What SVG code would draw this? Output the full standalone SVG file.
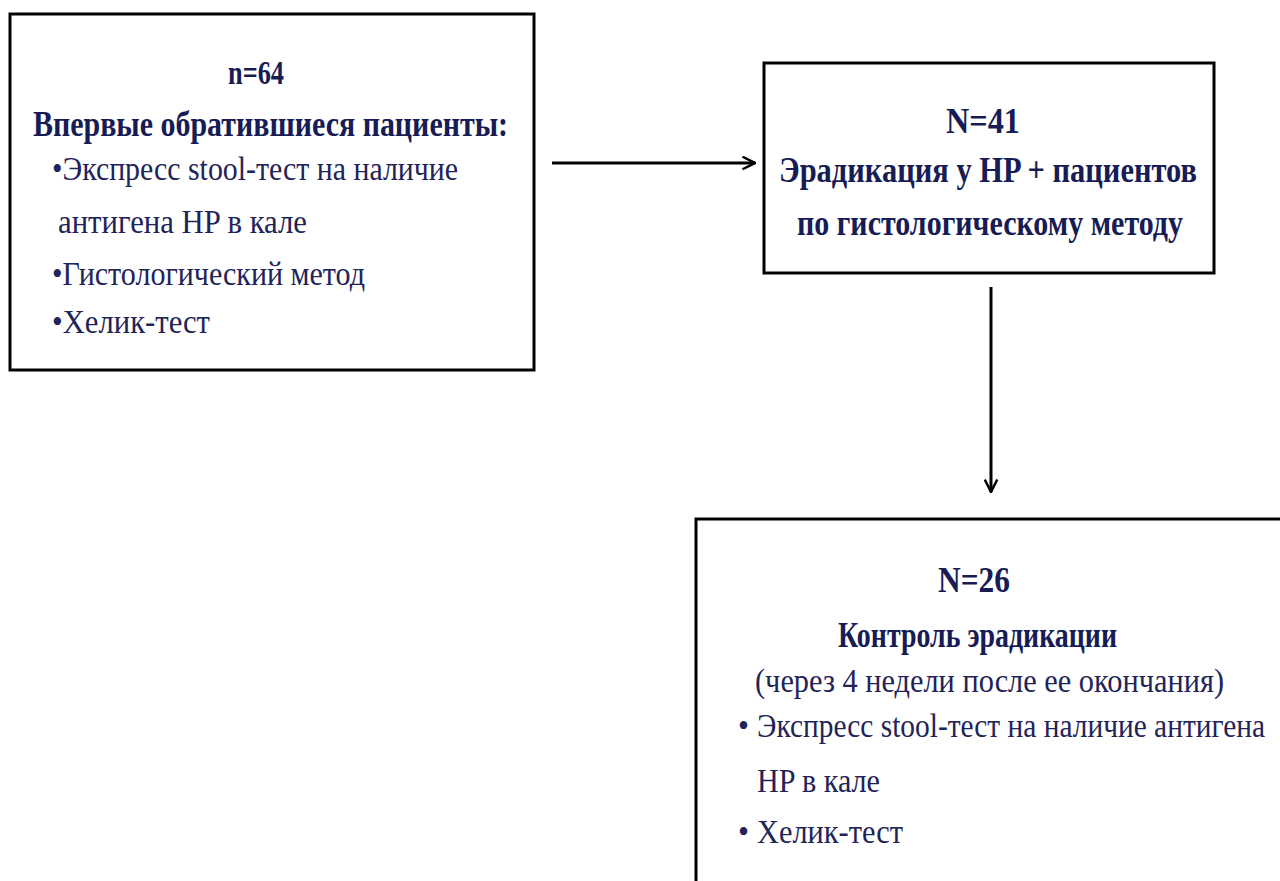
<svg xmlns="http://www.w3.org/2000/svg" width="1280" height="881" viewBox="0 0 1280 881">
<defs>
<style>
.box{fill:#fff;stroke:#000;stroke-width:3}
.t{font-family:"Liberation Serif",serif;font-size:34px;fill:#1f2459}
.b{font-weight:bold;font-size:36px;fill:#171c55}
.conn{stroke:#000;stroke-width:3;fill:none}
</style>
<marker id="ah" viewBox="0 0 12 12" refX="11" refY="6" markerWidth="5" markerHeight="5" markerUnits="strokeWidth" orient="auto">
<path d="M1,1 L11,6 L1,11" fill="none" stroke="#000" stroke-width="2"/>
</marker>
</defs>
<rect width="1280" height="881" fill="#fff"/>
<g id="node1">
<rect class="box" x="10" y="14" width="524" height="356"/>
<text class="t b" x="228" y="84" textLength="56" lengthAdjust="spacingAndGlyphs" style="font-size:33px">n=64</text>
<text class="t b" x="33" y="136" textLength="475" lengthAdjust="spacingAndGlyphs">Впервые обратившиеся пациенты:</text>
<text class="t" x="52" y="180" textLength="406" lengthAdjust="spacingAndGlyphs">•Экспресс stool-тест на наличие</text>
<text class="t" x="58" y="233" textLength="249" lengthAdjust="spacingAndGlyphs">антигена HP в кале</text>
<text class="t" x="52" y="285" textLength="313" lengthAdjust="spacingAndGlyphs">•Гистологический метод</text>
<text class="t" x="52" y="333" textLength="158" lengthAdjust="spacingAndGlyphs">•Хелик-тест</text>
</g>
<g id="node2">
<rect class="box" x="764" y="63" width="450" height="210"/>
<text class="t b" x="946" y="133" textLength="74" lengthAdjust="spacingAndGlyphs">N=41</text>
<text class="t b" x="779" y="182" textLength="418" lengthAdjust="spacingAndGlyphs">Эрадикация  у HP + пациентов</text>
<text class="t b" x="797" y="235" textLength="386" lengthAdjust="spacingAndGlyphs">по гистологическому методу</text>
</g>
<g id="node3">
<rect class="box" x="696" y="519" width="600" height="400"/>
<text class="t b" x="938" y="592" textLength="72" lengthAdjust="spacingAndGlyphs">N=26</text>
<text class="t b" x="838" y="647" textLength="279" lengthAdjust="spacingAndGlyphs">Контроль эрадикации</text>
<text class="t" x="755" y="692" textLength="469" lengthAdjust="spacingAndGlyphs">(через  4 недели после ее окончания)</text>
<text class="t" x="738" y="737" textLength="11" lengthAdjust="spacingAndGlyphs">•</text>
<text class="t" x="757" y="737" textLength="508" lengthAdjust="spacingAndGlyphs">Экспресс stool-тест на наличие антигена</text>
<text class="t" x="757" y="792" textLength="123" lengthAdjust="spacingAndGlyphs">HP в кале</text>
<text class="t" x="738" y="843" textLength="11" lengthAdjust="spacingAndGlyphs">•</text>
<text class="t" x="757" y="843" textLength="146" lengthAdjust="spacingAndGlyphs">Хелик-тест</text>
</g>
<g id="connectors">
<line class="conn" x1="552" y1="163" x2="755" y2="163" marker-end="url(#ah)"/>
<line class="conn" x1="991" y1="287" x2="991" y2="492" marker-end="url(#ah)"/>
</g>
</svg>
